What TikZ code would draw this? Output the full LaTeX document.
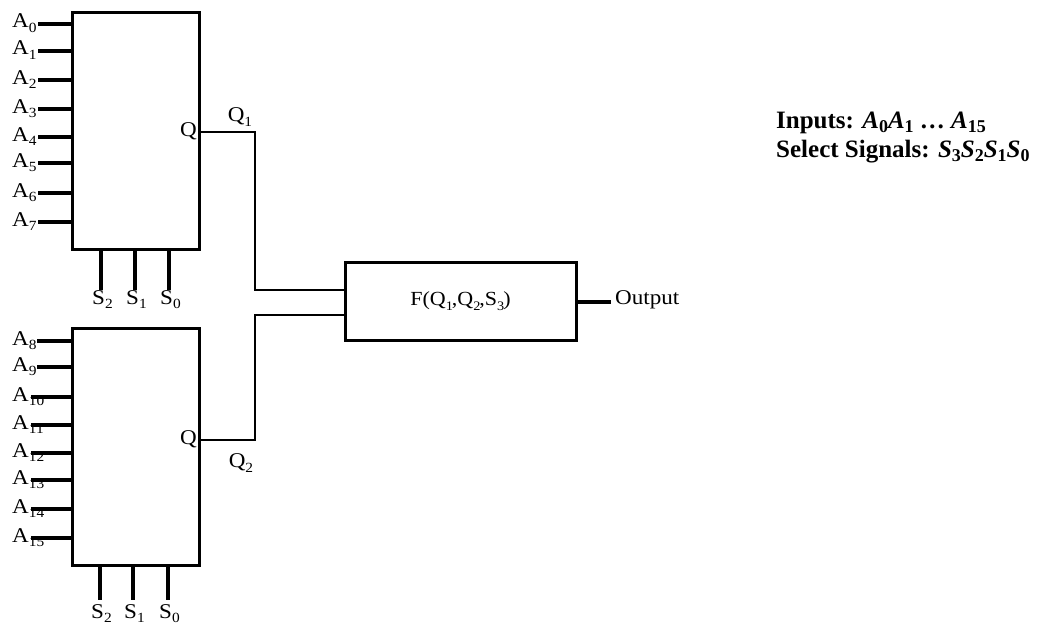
\documentclass[tikz,border=0pt]{standalone}
\usepackage{fontspec}
\setmainfont{Liberation Serif}[FakeStretch=1.1]
\newfontfamily\legendfont{Liberation Serif}
\newcommand\lsub[1]{\raisebox{-0.45ex}{\fontsize{14}{14}\selectfont #1}}
\newcommand\fsub[1]{\raisebox{-0.55ex}{\fontsize{13}{13}\selectfont #1}\kern-1pt}
\newcommand\bsub[1]{\raisebox{-0.3ex}{\fontsize{18}{18}\selectfont\bfseries #1}}
\begin{document}
\begin{tikzpicture}[x=1pt,y=-1pt,
  muxbox/.style={draw,line width=3.8pt,minimum width=127pt,minimum height=237pt,inner sep=0pt},
  fbox/.style={draw,line width=3pt,minimum width=231pt,minimum height=78pt,inner sep=0pt,font=\fontsize{20}{20}\selectfont},
  pin/.style={line width=3.4pt},
  wire/.style={line width=2.6pt},
  lbl/.style={inner sep=0pt,font=\fontsize{21}{21}\selectfont},
  big/.style={inner sep=0pt,anchor=west,font=\fontsize{25}{25}\legendfont\bfseries}]
\useasboundingbox (0,0) rectangle (1056,626);

% multiplexer boxes
\node[muxbox] (m1) at (136,131) {};
\node[muxbox] (m2) at (136,447) {};
\node[fbox] (f) at (460.5,301) {F(Q\fsub{1},Q\fsub{2},S\fsub{3})};

% inputs of top box
\foreach \i/\y in {0/24,1/51,2/80,3/109,4/137,5/163,6/193,7/222}{
  \coordinate (a\i) at (38,\y);
  \draw[pin] (a\i) -- (m1.west |- a\i);
  \node[lbl,anchor=base west] (la\i) at (12,\y+4) {A\lsub{\i}};
}
% inputs of bottom box
\foreach \i/\y/\x in {8/341/37,9/367/37,10/397/31,11/425/31,12/453/31,13/480/31,14/509/31,15/538/31}{
  \coordinate (a\i) at (\x,\y);
  \draw[pin] (a\i) -- (m2.west |- a\i);
  \node[lbl,anchor=base west] (la\i) at (12,\y+4) {A\lsub{\i}};
}

% select lines
\foreach \n/\s/\x in {2/t2/101,1/t1/135,0/t0/169}{
  \coordinate (\s) at (\x,290);
  \draw[pin] (m1.south -| \s) -- (\s);
  \node[lbl,anchor=base west] (l\s) at (\x-9,304) {S\lsub{\n}};
}
\foreach \n/\s/\x in {2/b2/100,1/b1/133,0/b0/168}{
  \coordinate (\s) at (\x,600);
  \draw[pin] (m2.south -| \s) -- (\s);
  \node[lbl,anchor=base west] (l\s) at (\x-9,618) {S\lsub{\n}};
}

% Q outputs
\node[lbl,anchor=east] (q1) at (197,131) {Q};
\node[lbl,anchor=east] (q2) at (197,439) {Q};
\coordinate (o1) at (199,132);
\coordinate (o2) at (199,440);
\draw[wire] (o1) -- (255,132) -- (255,290) -- (f.west |- 0,290);
\draw[wire] (o2) -- (255,440) -- (255,315) -- (f.west |- 0,315);
\node[lbl] (lq1) at (240,117) {Q\lsub{1}};
\node[lbl] (lq2) at (241,463) {Q\lsub{2}};

% output
\coordinate (out) at (611,302);
\draw[line width=3.4pt] (f.east |- out) -- (out);
\node[lbl,anchor=west] (lout) at (615,300) {Output};

% legend
\node[big] (t1) at (776,123) {Inputs: \textit{A}\bsub{0}\textit{A}\bsub{1} … \textit{A}\bsub{15}};
\node[big] (t2) at (776,152) {Select Signals: \textit{S}\bsub{3}\textit{S}\bsub{2}\textit{S}\bsub{1}\textit{S}\bsub{0}};
\end{tikzpicture}
\end{document}
